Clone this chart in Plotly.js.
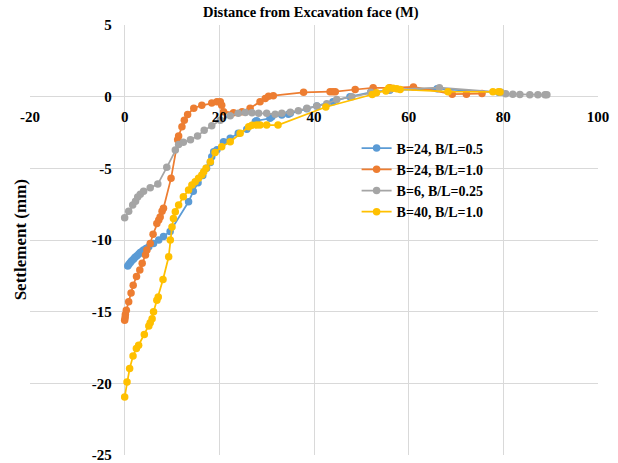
<!DOCTYPE html>
<html>
<head>
<meta charset="utf-8">
<script src="https://cdn.plot.ly/plotly-3.0.1.min.js"></script>
<style>html,body{margin:0;padding:0;background:#fff;}#chart{width:618px;height:463px;}</style>
</head>
<body>
<div id="chart"></div>
<script>
// Series names
const seriesNames = ["B=24, B/L=0.5", "B=24, B/L=1.0", "B=6, B/L=0.25", "B=40, B/L=1.0"];
const seriesColors = ["#5B9BD5", "#ED7D31", "#A5A5A5", "#FFC000"];

// B=24, B/L=0.5 (blue)
const blueX = [0.65,0.9,1.2,1.5,1.9,2.2,2.6,3.0,3.3,3.7,4.0,4.5,5.1,6.1,7.2,8.2,9.6,13.5,14.5,15.5,16.5,17.3,18.1,18.4,18.8,19.5,20.9,22.3,24.0,25.8,27.6,27.9,30.7,31.1,33.2,34.6,35.0,38.5,40.6,44.0,47.6,52.0,56.0,66.0,79.0];
const blueY = [-11.82,-11.7,-11.57,-11.45,-11.33,-11.2,-11.1,-10.98,-10.87,-10.78,-10.7,-10.6,-10.47,-10.24,-10.0,-9.75,-9.4,-7.33,-6.6,-6.0,-5.5,-5.0,-4.6,-4.2,-3.84,-3.7,-3.14,-2.9,-2.56,-2.28,-1.74,-1.68,-1.51,-1.4,-1.28,-1.23,-1.16,-0.85,-0.65,-0.35,0.0,0.3,0.45,0.55,0.3];

// B=24, B/L=1.0 (orange)
const orangeX = [0,0.1,0.15,0.35,0.85,1.35,1.8,2.5,3.2,3.7,4.4,4.7,5.4,6.0,6.8,7.2,7.5,7.9,8.2,9.8,11.2,11.4,12.1,12.6,13.3,14.6,16.3,18.4,19.5,20.2,20.5,20.9,23.0,24.8,26.5,28.6,29.7,30.4,31.4,37.8,43.4,44.0,44.5,48.7,52.5,56.0,61.0,69.2,72.2,75.5];
const orangeY = [-15.6,-15.4,-15.2,-14.9,-14.3,-13.7,-13.15,-12.55,-12.1,-11.63,-11.05,-10.7,-10.25,-9.6,-8.85,-8.6,-8.4,-8.0,-7.78,-5.7,-3.0,-2.75,-2.1,-1.65,-1.25,-0.8,-0.6,-0.45,-0.35,-0.35,-0.6,-1.05,-1.12,-1.05,-0.8,-0.35,-0.12,0.03,0.07,0.3,0.35,0.35,0.35,0.5,0.62,0.62,0.68,0.17,0.17,0.22];

// B=6, B/L=0.25 (gray)
const grayX = [0,0.85,1.7,2.3,2.75,3.3,4.0,5.4,7.0,8.9,10.7,11.4,12.4,13.9,15.4,16.8,18.4,20.2,22.3,24.0,25.5,26.9,28.3,30.0,31.8,33.2,35.0,36.7,38.5,40.6,42.7,44.8,48.0,52.0,56.0,66.5,79.5,80.5,82.0,83.5,85.6,87.3,88.8,89.2];
const grayY = [-8.45,-8.0,-7.55,-7.3,-7.0,-6.8,-6.6,-6.35,-6.1,-4.93,-3.72,-3.33,-3.18,-3.0,-2.75,-2.35,-2.03,-1.65,-1.33,-1.16,-1.1,-1.12,-1.16,-1.16,-1.22,-1.16,-1.09,-0.98,-0.81,-0.65,-0.5,-0.2,0.0,0.3,0.5,0.63,0.3,0.2,0.17,0.15,0.14,0.14,0.13,0.13];

// B=40, B/L=1.0 (yellow)
const yellowX = [0,0.5,1.05,1.77,2.47,2.95,4.15,5.1,5.4,5.8,6.1,6.8,7.1,8.1,9.3,9.64,10.0,10.3,10.7,11.4,12.4,13.5,14.2,14.9,15.6,16.3,16.7,17.2,18.1,19.1,20.5,22.3,24.4,26.2,26.9,27.9,28.6,30.0,32.4,42.5,52.3,53.2,55.2,55.8,56.7,57.5,58.2,68.3,77.8,79.0,79.3];
const yellowY = [-20.95,-19.9,-18.97,-18.1,-17.57,-17.34,-16.6,-16.0,-15.78,-15.5,-15.0,-14.2,-13.97,-12.75,-11.17,-10.0,-9.1,-8.5,-8.03,-7.56,-6.98,-6.52,-6.17,-5.94,-5.7,-5.47,-5.24,-5.0,-4.54,-3.9,-3.49,-3.14,-2.56,-2.1,-2.0,-1.98,-1.98,-1.98,-1.98,-0.72,0.15,0.28,0.4,0.6,0.58,0.55,0.5,0.35,0.35,0.35,0.33];

// Axis ticks
const xTicks = [-20, 0, 20, 40, 60, 80, 100];
const yTicks = [5, 0, -5, -10, -15, -20, -25];

const xs = [blueX, orangeX, grayX, yellowX];
const ys = [blueY, orangeY, grayY, yellowY];

const FONT = "Liberation Serif, Times New Roman, serif";

const traces = seriesNames.map((name, i) => ({
  x: xs[i], y: ys[i], name: name, type: "scatter", mode: "lines+markers",
  line: {color: seriesColors[i], width: 1.75},
  marker: {color: seriesColors[i], size: 7.5},
  cliponaxis: false
}));

const layout = {
  width: 618, height: 463,
  margin: {l: 29.5, r: 20, t: 25, b: 8},
  paper_bgcolor: "#fff", plot_bgcolor: "#fff",
  showlegend: true,
  legend: {
    x: 0.575, y: 0.75, xanchor: "left", yanchor: "top",
    font: {family: FONT, size: 14, color: "#000", weight: "bold"},
    tracegroupgap: 0, itemwidth: 30, bgcolor: "rgba(0,0,0,0)"
  },
  xaxis: {
    range: [-20, 100], tickvals: xTicks, ticktext: xTicks.map(String),
    anchor: "free", position: 5/6,
    showgrid: true, gridcolor: "#d9d9d9", gridwidth: 1,
    zeroline: false, showline: false, ticks: "",
    tickfont: {family: FONT, size: 15, color: "#000", weight: "bold"},
    ticklabelstandoff: 9, ticklabeloverflow: "allow"
  },
  yaxis: {
    range: [-25, 5], tickvals: yTicks, ticktext: yTicks.map(String),
    anchor: "free", position: 1/6,
    showgrid: true, gridcolor: "#d9d9d9", gridwidth: 1,
    zeroline: false, showline: false, ticks: "",
    tickfont: {family: FONT, size: 15, color: "#000", weight: "bold"},
    ticklabelstandoff: 13, ticklabeloverflow: "allow"
  },
  annotations: [
    {text: "<b>Distance from Excavation face (M)</b>", xref: "paper", yref: "paper",
     x: 0.495, y: 1.03, xanchor: "center", yanchor: "middle", showarrow: false,
     font: {family: FONT, size: 14.5, color: "#000"}},
    {text: "<b>Settlement (mm)</b>", xref: "paper", yref: "paper",
     x: -0.017, y: 0.5, xanchor: "center", yanchor: "middle", textangle: -90, showarrow: false,
     font: {family: FONT, size: 17, color: "#000"}}
  ]
};

Plotly.newPlot("chart", traces, layout, {displayModeBar: false, staticPlot: true});
</script>
</body>
</html>
